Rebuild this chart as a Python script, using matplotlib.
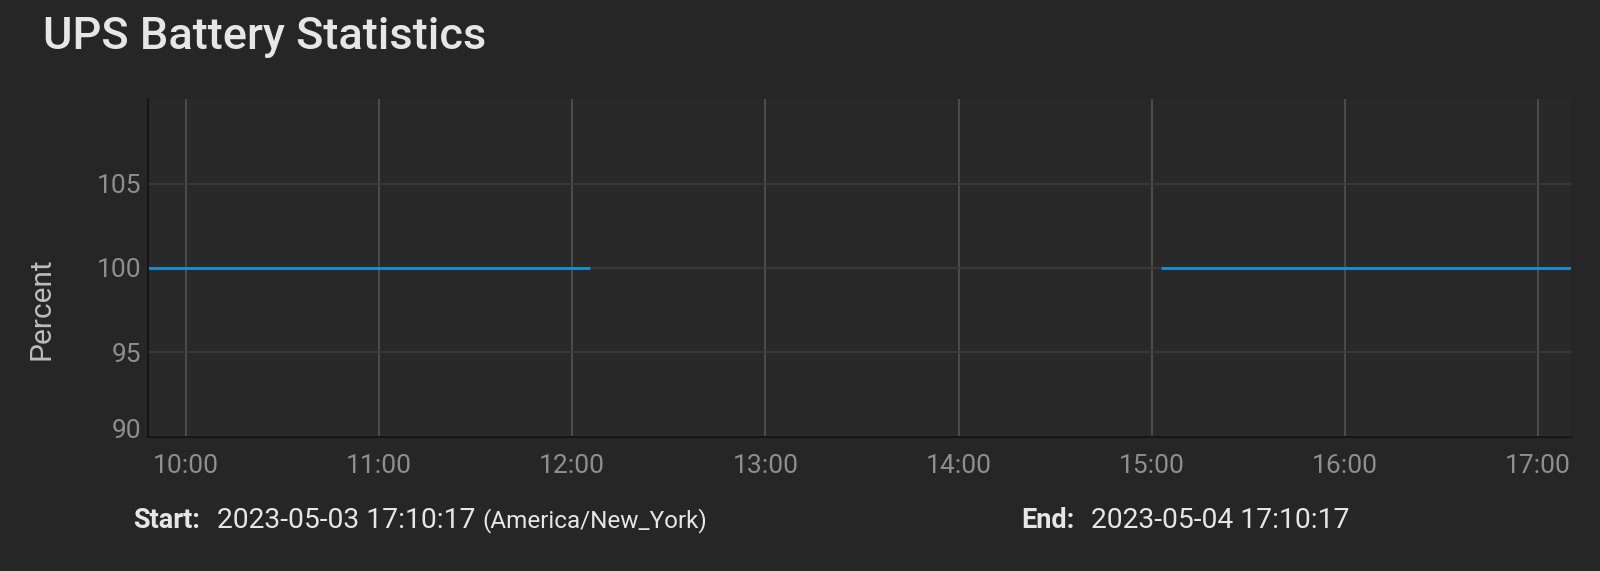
import numpy as np
import pandas as pd
import matplotlib
matplotlib.use('Agg')
import matplotlib.pyplot as plt
import matplotlib.dates as mdates
from matplotlib.transforms import ScaledTranslation

plt.rcParams['font.family'] = ['Roboto', 'DejaVu Sans']

# data (two segments, gap between)
seg1_times = ['2023-05-04 09:48:15', '2023-05-04 12:05:30']
seg1_vals = [100, 100]
seg2_times = ['2023-05-04 15:03:00', '2023-05-04 17:10:17']
seg2_vals = [100, 100]
x_start = '2023-05-04 09:48:15'
x_end = '2023-05-04 17:10:17'
yticks = [90, 95, 100, 105]

title = 'UPS Battery Statistics'
start_str = '2023-05-03 17:10:17'
end_str = '2023-05-04 17:10:17'
tz_str = '(America/New_York)'

bg = '#262626'
axbg = '#292929'

fig = plt.figure(figsize=(16, 5.71), dpi=100, facecolor=bg)
ax = fig.add_axes([0.0925, 0.2347, 0.8895, 0.5919], facecolor=axbg)

ax.plot(pd.to_datetime(seg1_times), seg1_vals, color='#1b8fd5', lw=2, solid_capstyle='butt')
ax.plot(pd.to_datetime(seg2_times), seg2_vals, color='#1b8fd5', lw=2, solid_capstyle='butt')

ax.set_xlim(pd.to_datetime(x_start), pd.to_datetime(x_end))
ax.set_ylim(90, 110)
ax.set_yticks(yticks)
ax.xaxis.set_major_locator(mdates.HourLocator())
ax.xaxis.set_major_formatter(mdates.DateFormatter('%H:%M'))

ax.grid(axis='x', color='#525252', lw=1.2)
ax.grid(axis='y', color='#3c3c3c', lw=1.2)
ax.set_axisbelow(True)

for s in ['top', 'right']:
    ax.spines[s].set_visible(False)
for s in ['left', 'bottom']:
    ax.spines[s].set_color('#111111')
    ax.spines[s].set_linewidth(1.2)

ax.tick_params(axis='both', length=0, labelsize=19, labelcolor='#8e8e8e')
ax.tick_params(axis='x', pad=12)
ax.tick_params(axis='y', pad=5)
# nudge bottom label up like the original
ax.get_yticklabels()[0].set_transform(
    ax.get_yticklabels()[0].get_transform() + ScaledTranslation(0, 6 / 72, fig.dpi_scale_trans))

fig.text(43 / 1600, 1 - 49 / 571, title, fontsize=32.5, color='#e6e6e6',
         fontweight='medium', va='baseline', ha='left')
fig.text(42 / 1600, 1 - 309 / 571, 'Percent', fontsize=21.5, color='#bdbdbd',
         rotation=90, va='center', ha='center')

ty = 1 - 521 / 571
fig.text(133 / 1600, ty, 'Start:', fontsize=19.5, fontweight='bold', color='#e6e6e6', va='center')
fig.text(217 / 1600, ty, start_str, fontsize=20.3, color='#e6e6e6', va='center')
fig.text(482 / 1600, ty, tz_str, fontsize=17.5, color='#e6e6e6', va='center')
fig.text(1021 / 1600, ty, 'End:', fontsize=19.5, fontweight='bold', color='#e6e6e6', va='center')
fig.text(1091 / 1600, ty, end_str, fontsize=20.3, color='#e6e6e6', va='center')

fig.savefig('out.png', dpi=100, facecolor=bg)
